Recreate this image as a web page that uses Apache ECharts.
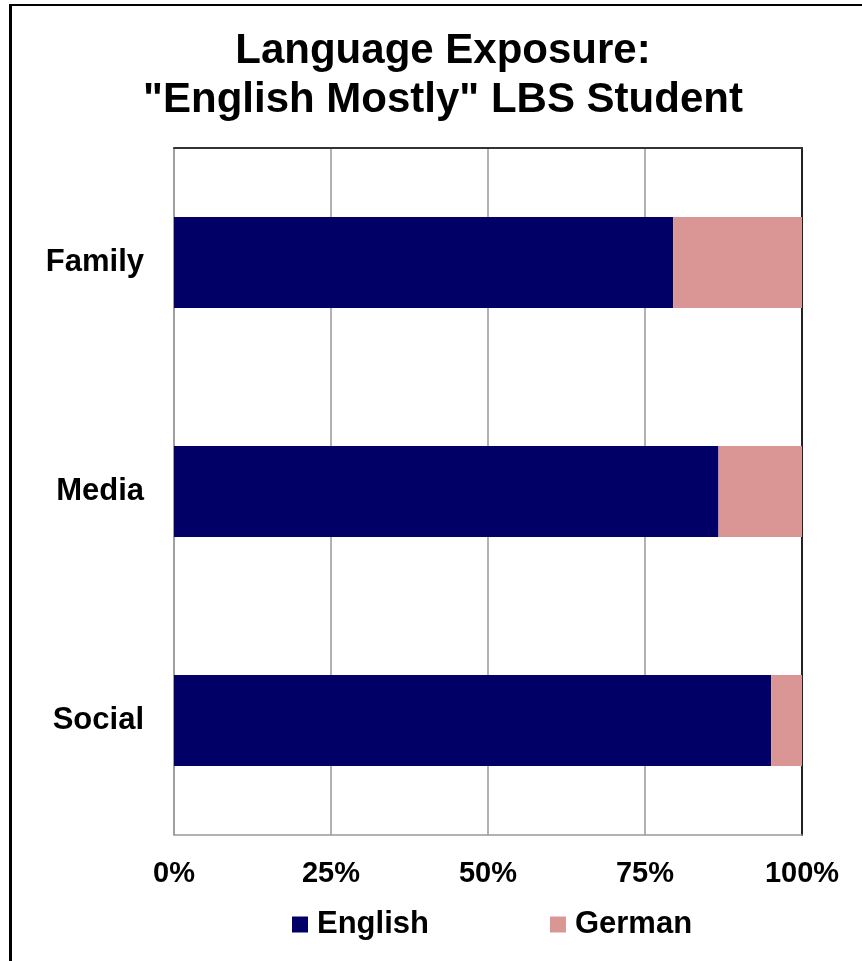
<!DOCTYPE html>
<html>
<head>
<meta charset="utf-8">
<title>Language Exposure</title>
<script src="https://cdn.jsdelivr.net/npm/echarts@6/dist/echarts.min.js"></script>
<style>
  html, body { margin: 0; padding: 0; background: #fff; }
  #chart { width: 862px; height: 961px; }
</style>
</head>
<body>
<div id="chart"></div>
<script>
const categories = ["Family", "Media", "Social"];
const englishValues = [79.5, 86.7, 95.1];
const germanValues = [20.5, 13.3, 4.9];
const tickValues = [0, 25, 50, 75, 100];

const FONT = "'Liberation Sans', Arial, sans-serif";

const chart = echarts.init(document.getElementById("chart"));

const option = {
  backgroundColor: "#ffffff",
  animation: false,
  title: {
    text: 'Language Exposure:\n"English Mostly" LBS Student',
    left: 443,
    top: 27,
    padding: 0,
    textAlign: "center",
    textStyle: {
      fontFamily: FONT,
      fontSize: 42,
      fontWeight: "bold",
      color: "#000",
      lineHeight: 49
    }
  },
  legend: {
    left: 292,
    top: 909,
    padding: 0,
    itemWidth: 16,
    itemHeight: 16,
    itemGap: 121,
    icon: "rect",
    textStyle: {
      fontFamily: FONT,
      fontSize: 31,
      fontWeight: "bold",
      color: "#000",
      padding: [0, 0, 0, 4]
    },
    data: ["English", "German"]
  },
  grid: {
    left: 174,
    right: 60,
    top: 148,
    bottom: 126,
    containLabel: false
  },
  xAxis: [
    {
      type: "value",
      min: 0,
      max: 100,
      interval: 25,
      position: "bottom",
      axisLine: { show: true, lineStyle: { color: "#999", width: 1.5 } },
      axisTick: { show: false },
      splitLine: { show: true, lineStyle: { color: "#999", width: 1.5 } },
      axisLabel: {
        margin: 24,
        fontFamily: FONT,
        fontSize: 29,
        fontWeight: "bold",
        color: "#000",
        formatter: v => (tickValues.includes(v) ? v + "%" : "")
      }
    },
    {
      type: "value",
      min: 0,
      max: 100,
      position: "top",
      axisLine: { show: true, onZero: false, lineStyle: { color: "#333", width: 2 } },
      axisTick: { show: false },
      splitLine: { show: false },
      axisLabel: { show: false }
    }
  ],
  yAxis: [
    {
      type: "category",
      data: categories,
      inverse: true,
      axisLine: { show: true, onZero: false, lineStyle: { color: "#999", width: 1.5 } },
      axisTick: { show: false },
      axisLabel: {
        margin: 30,
        fontFamily: FONT,
        fontSize: 31,
        fontWeight: "bold",
        color: "#000"
      }
    },
    {
      type: "category",
      data: categories,
      inverse: true,
      position: "right",
      axisLine: { show: true, onZero: false, lineStyle: { color: "#222", width: 2 } },
      axisTick: { show: false },
      axisLabel: { show: false }
    }
  ],
  graphic: [
    {
      type: "line",
      shape: { x1: 9, y1: 5, x2: 862, y2: 5 },
      style: { stroke: "#000", lineWidth: 2 }
    },
    {
      type: "line",
      shape: { x1: 10.5, y1: 5, x2: 10.5, y2: 961 },
      style: { stroke: "#000", lineWidth: 3 }
    }
  ],
  series: [
    {
      name: "English",
      type: "bar",
      stack: "total",
      barWidth: 91,
      itemStyle: { color: "#000066" },
      data: englishValues
    },
    {
      name: "German",
      type: "bar",
      stack: "total",
      barWidth: 91,
      itemStyle: { color: "#d99694" },
      data: germanValues
    }
  ]
};

chart.setOption(option);
</script>
</body>
</html>
